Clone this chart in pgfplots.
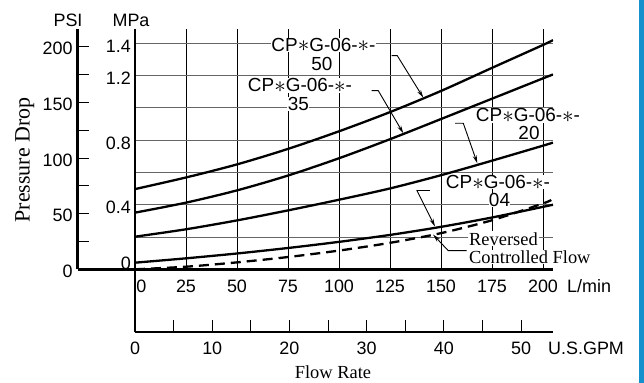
\documentclass[border=0pt]{standalone}
\usepackage{fix-cm}
\usepackage{graphicx}
\usepackage{fontspec}
\setmainfont{Liberation Serif}
\setsansfont{Liberation Sans}
\usepackage{pgfplots}
\pgfplotsset{compat=1.18}
\usetikzlibrary{arrows.meta}
\definecolor{barblue}{RGB}{20,145,205}
\newcommand\sfL{\sffamily\fontsize{18}{20}\selectfont}
\newcommand\sfC{\sffamily\fontsize{19}{18.5}\selectfont}
\newcommand\rmL{\rmfamily\fontsize{18.5}{18.5}\selectfont}
\newcommand\rmP{\rmfamily\fontsize{22}{24}\selectfont}
\newcommand\sAst{\raisebox{-0.8bp}{\scalebox{1.22}{$\ast$}}}
\newcommand\lbl{CP\sAst G-06-\sAst-}
\begin{document}
\begin{tikzpicture}
\path[use as bounding box] (-135bp,-113.7bp) rectangle (509bp,269.3bp);
% PSI axis
\begin{axis}[at={(-57.3bp,0)}, anchor=south west, scale only axis,
  width=57.3bp, height=240bp, xmin=0, xmax=1, ymin=0, ymax=215.67,
  axis lines*=left, axis line style={-, line width=2.6bp},
  xtick=\empty, ytick={0,25,...,200}, yticklabels={0,,50,,100,,150,,200},
  tick align=inside, major tick length=11bp, tick style={black, line width=1bp},
  /pgf/number format/assume math mode=true,
  yticklabel style={font=\sfL, anchor=east, inner sep=0pt, xshift=-5bp, yshift=-2bp}]
\end{axis}
% GPM axis
\begin{axis}[at={(0,-62.7bp)}, anchor=south west, scale only axis,
  width=418bp, height=62.7bp, xmin=0, xmax=54.13, ymin=0, ymax=1,
  axis lines*=left, axis line style={-, line width=2.6bp},
  ytick=\empty, xtick={0,5,...,50}, xticklabels={0,,10,,20,,30,,40,,50},
  tick align=inside, major tick length=12bp, tick style={black, line width=1bp},
  /pgf/number format/assume math mode=true,
  xticklabel style={font=\sfL, anchor=base, inner sep=0pt, yshift=-22bp}]
\end{axis}
% main axis
\begin{axis}[at={(0,0)}, anchor=south west, scale only axis,
  width=418bp, height=240bp, xmin=0, xmax=204.9, ymin=0, ymax=1.487,
  axis lines*=left, axis line style={-, line width=2.6bp},
  xtick={0,25,...,200},
  xticklabels={\makebox[0pt][l]{\kern1.5bp 0},25,50,75,100,125,150,175,200},
  ytick={0,0.2,0.4,0.6,0.8,1.0,1.2,1.4},
  yticklabels={\raisebox{9bp}[\height][\depth]{0},{},0.4,{},0.8,{},1.2,1.4},
  major tick length=0pt, grid=major,
  x grid style={black, line width=0.8bp},
  y grid style={black!60, line width=1bp},
  /pgf/number format/assume math mode=true,
  xticklabel style={font=\sfL, anchor=base, inner sep=0pt, yshift=-23bp},
  yticklabel style={font=\sfL, anchor=east, inner sep=0pt, xshift=-4bp, yshift=-3bp}]
\addplot[black, line width=2.3bp, smooth] coordinates {(0,0.497) (25,0.569) (50,0.650) (75,0.746) (100,0.855) (125,0.974) (150,1.105) (175,1.248) (200,1.39) (204.9,1.42)};
\addplot[black, line width=2.3bp, smooth] coordinates {(0,0.351) (25,0.413) (50,0.489) (75,0.581) (100,0.688) (125,0.806) (150,0.931) (175,1.057) (200,1.183) (204.9,1.207)};
\addplot[black, line width=2.3bp, smooth] coordinates {(0,0.202) (25,0.248) (50,0.303) (75,0.365) (100,0.431) (125,0.501) (150,0.583) (175,0.673) (200,0.766) (204.9,0.785)};
\addplot[black, line width=2.3bp, smooth] coordinates {(0,0.041) (25,0.068) (50,0.098) (75,0.132) (100,0.170) (125,0.213) (150,0.263) (175,0.321) (200,0.387) (204.9,0.400)};
\addplot[black, line width=2.3bp, smooth, dash pattern=on 10bp off 6bp] coordinates {(0,0) (25,0.016) (50,0.043) (75,0.076) (100,0.116) (125,0.164) (150,0.224) (175,0.304) (200,0.408) (204,0.43)};
\end{axis}
% axis titles
\node[font=\sfL] at (-67bp,249.3bp) {PSI};
\node[font=\sfL] at (-4bp,249.3bp) {MPa};
\node[font=\rmP, rotate=90] at (-110.3bp,109.3bp) {Pressure Drop};
\node[font=\sfL, anchor=base west, inner sep=0pt] at (432bp,-23.1bp) {L/min};
\node[font=\sfL, anchor=base west, inner sep=0pt] at (413bp,-85.1bp) {U.S.GPM};
\node[font=\rmL, anchor=base, inner sep=0pt] at (198bp,-109bp) {Flow Rate};
% curve labels
\begin{scope}[every node/.style={font=\sfC, anchor=base, fill=white, inner sep=0.3bp}]
\node at (188.5bp,218.1bp) {\lbl};
\node at (187bp,199.1bp) {50};
\node at (165bp,177.5bp) {\lbl};
\node at (163.3bp,159.1bp) {35};
\node at (393bp,147.6bp) {\lbl};
\node at (394bp,129.3bp) {20};
\node at (363bp,80.9bp) {\lbl};
\node at (364.5bp,62.6bp) {04};
\end{scope}
\node[font=\rmL, anchor=base west, fill=white, inner sep=1bp] at (333bp,24.3bp) {Reversed\hspace{8bp}};
\node[font=\rmL, anchor=base west, fill=white, inner sep=1bp] at (333bp,6bp) {Controlled Flow};
% leaders
\begin{scope}[line width=0.9bp, arr/.style={-{Stealth[length=8bp,width=4bp]}}]
\draw[arr] (256.7bp,213.6bp) -- (262.3bp,213.6bp) -- (288.3bp,171.6bp);
\draw[arr] (236.7bp,178.6bp) -- (243.3bp,178.6bp) -- (268.3bp,136bp);
\draw[arr] (320bp,146bp) -- (328.3bp,146bp) -- (342.3bp,106bp);
\draw (281.7bp,79.3bp) -- (295bp,79.3bp);
\draw[arr] (281.7bp,79.3bp) -- (300bp,42.8bp);
\draw[arr] (331.7bp,18.6bp) -- (313.3bp,18.6bp) -- (298bp,34.8bp);
\end{scope}
\fill[barblue] (504bp,-113.7bp) rectangle (509bp,269.3bp);
\end{tikzpicture}
\end{document}
